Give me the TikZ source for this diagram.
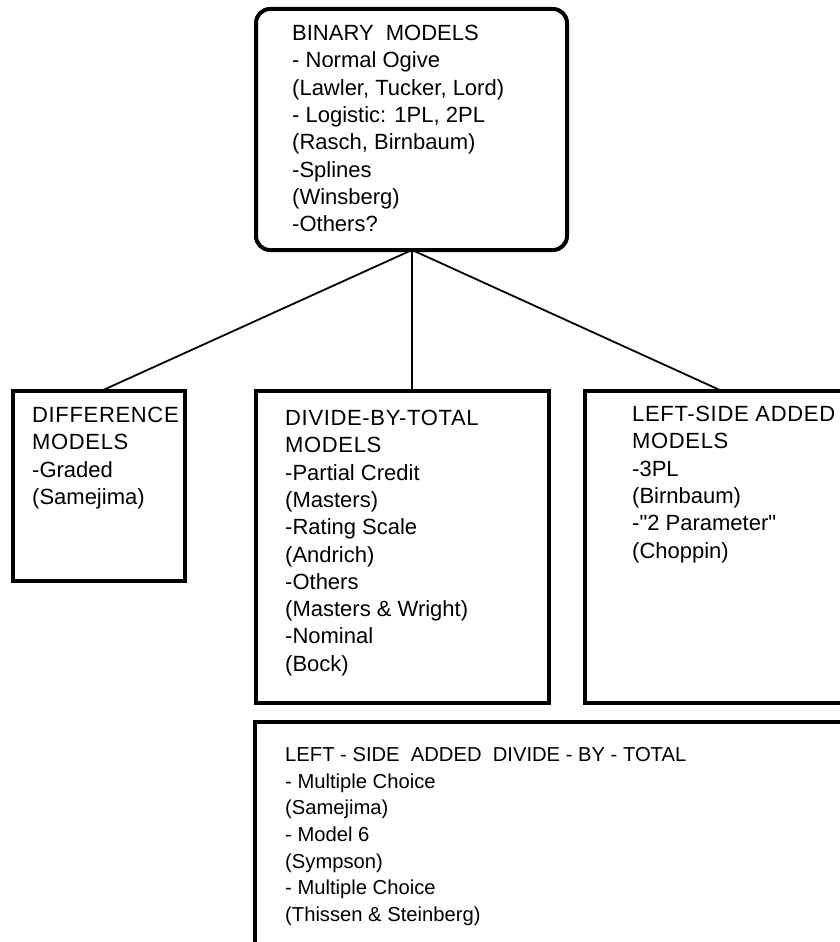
\documentclass[tikz,border=0pt]{standalone}
\usepackage{fontspec}
\setmainfont{Liberation Sans}
\newfontfamily\qfont{Liberation Sans}
\begin{document}
\begin{tikzpicture}[x=1pt,y=-1pt,
  box/.style={draw=black,line width=4pt,inner sep=0pt,outer sep=0pt,anchor=north west},
  conn/.style={draw=black,line width=1.8pt},
  txt/.style={anchor=north west,inner sep=0pt,align=left,font=\fontsize{22}{27.3}\selectfont},
  txtb/.style={anchor=north west,inner sep=0pt,align=left,font=\fontsize{20.2}{26.7}\selectfont}]
\useasboundingbox (0,0) rectangle (840,942);
% boxes
\node[box,rounded corners=14pt,minimum width=311pt,minimum height=241pt] (top) at (256,9) {};
\node[box,minimum width=172pt,minimum height=190pt] (diff) at (13,391) {};
\node[box,minimum width=293pt,minimum height=312pt] (dbt) at (256,391) {};
\node[box,minimum width=300pt,minimum height=312pt] (lsa) at (585,391) {};
\node[box,minimum width=640pt,minimum height=260pt] (bot) at (255,722) {};
% connectors
\coordinate (j) at (412,250);
\coordinate (dj) at (101,391);
\coordinate (rj) at (722,391);
\draw[conn] (j) -- (dj);
\draw[conn] (j) -- (dbt.north -| j);
\draw[conn] (j) -- (rj);
% texts
\node[txt] (ttop) at (292,25) {BINARY\ \ MODELS\\- Normal Ogive\\(Lawler, Tucker, Lord)\\- Logistic: 1PL, 2PL\\(Rasch, Birnbaum)\\-Splines\\(Winsberg)\\-Others?};
\node[txt] (tdiff) at (32,407) {{\addfontfeature{LetterSpace=3}DIFFERENCE}\\{\addfontfeature{LetterSpace=3}MODELS}\\-Graded\\(Samejima)};
\node[txt] (tdbt) at (285,410) {{\addfontfeature{LetterSpace=3}DIVIDE-BY-TOTAL}\\{\addfontfeature{LetterSpace=3}MODELS}\\-Partial Credit\\(Masters)\\-Rating Scale\\(Andrich)\\-Others\\(Masters \& Wright)\\-Nominal\\(Bock)};
\node[txt] (tlsa) at (632,406) {{\addfontfeature{LetterSpace=3}LEFT-SIDE ADDED}\\{\addfontfeature{LetterSpace=3}MODELS}\\-3PL\\(Birnbaum)\\-{\qfont"}2 Parameter{\qfont"}\\(Choppin)};
\node[txtb] (tbot) at (285,747) {LEFT - SIDE\ \ ADDED\ \ DIVIDE - BY - TOTAL\\- Multiple Choice\\(Samejima)\\- Model 6\\(Sympson)\\- Multiple Choice\\(Thissen \& Steinberg)};
\end{tikzpicture}
\end{document}
